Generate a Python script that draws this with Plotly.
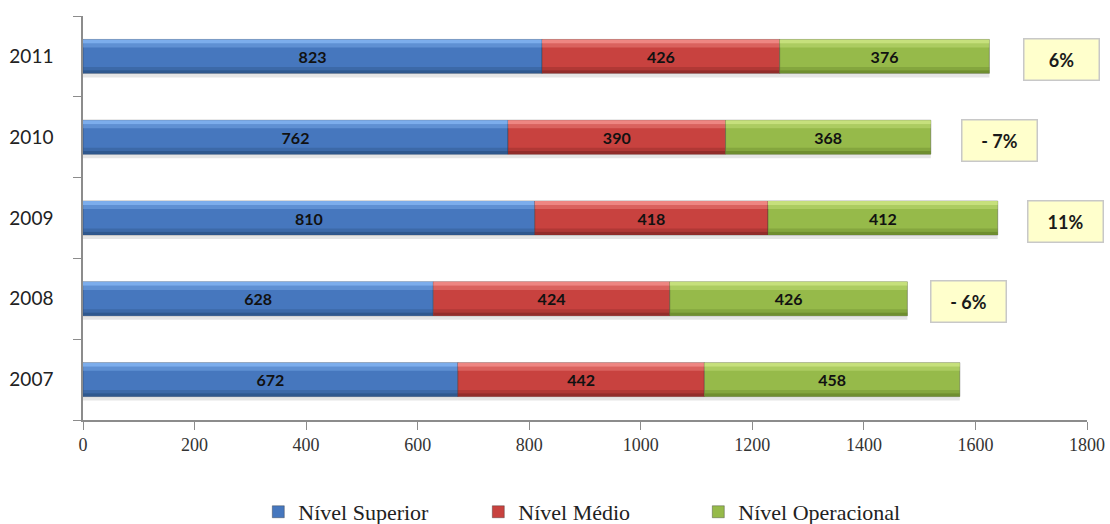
import plotly.graph_objects as go
import numpy as np

years = ["2007", "2008", "2009", "2010", "2011"]
superior = [672, 628, 810, 762, 823]
medio = [442, 424, 418, 390, 426]
operacional = [458, 426, 412, 368, 376]

# year-over-year change labels (2008..2011)
change_years = ["2008", "2009", "2010", "2011"]
change_labels = ["- 6%", "11%", "- 7%", "6%"]
change_x = [1587, 1762, 1644, 1754]

series = [
    ("Nível Superior", superior, "#4677BE", "#7FB0EE", "#2C5488"),
    ("Nível Médio", medio, "#C8423F", "#F08A86", "#8C2A28"),
    ("Nível Operacional", operacional, "#96BA4A", "#C8E27E", "#6A8A2C"),
]

W = 0.42
fig = go.Figure()
base = np.zeros(len(years))
for name, vals, mid, light, dark in series:
    vals = np.array(vals, dtype=float)
    # soft drop shadow
    fig.add_trace(go.Bar(
        y=years, x=vals, base=base, orientation="h", width=0.05, offset=-W / 2 - 0.05,
        marker=dict(color="rgba(0,0,0,0.10)", line=dict(width=0)),
        showlegend=False, hoverinfo="skip"))
    # main body
    fig.add_trace(go.Bar(
        y=years, x=vals, base=base, orientation="h", width=W, offset=-W / 2,
        name=name, marker=dict(color=mid, line=dict(color="rgba(40,40,40,0.35)", width=1)),
        text=[str(int(v)) for v in vals], textposition="inside",
        insidetextanchor="middle", textangle=0,
        textfont=dict(family="Lato, sans-serif", size=16, color="#111111", weight="bold"),
        hoverinfo="skip"))
    # top highlight bands
    for w, off, op in [(0.05, W / 2 - 0.05, 0.95), (0.05, W / 2 - 0.10, 0.45)]:
        fig.add_trace(go.Bar(
            y=years, x=vals, base=base, orientation="h", width=w, offset=off,
            marker=dict(color=light, opacity=op, line=dict(width=0)),
            showlegend=False, hoverinfo="skip"))
    # bottom shade bands
    for w, off, op in [(0.04, -W / 2, 0.9), (0.04, -W / 2 + 0.04, 0.4)]:
        fig.add_trace(go.Bar(
            y=years, x=vals, base=base, orientation="h", width=w, offset=off,
            marker=dict(color=dark, opacity=op, line=dict(width=0)),
            showlegend=False, hoverinfo="skip"))
    base = base + vals

for yr, lab, xx in zip(change_years, change_labels, change_x):
    fig.add_annotation(
        x=xx, y=years.index(yr), xref="x", yref="y", yshift=-3, text=f"<b>{lab}</b>",
        showarrow=False,
        font=dict(family="Lato, sans-serif", size=18, color="#1a1a1a"),
        bgcolor="#FFFFCC", bordercolor="#C8C8C8", borderwidth=1.5,
        width=72, height=38, align="center")

fig.update_layout(
    width=1110, height=524,
    barmode="overlay",
    plot_bgcolor="white", paper_bgcolor="white",
    margin=dict(l=83, r=23, t=16, b=104, autoexpand=False),
    showlegend=True,
    legend=dict(orientation="h", x=0.530, xanchor="center", xref="container",
                y=0.023, yanchor="middle", yref="container",
                font=dict(family="Liberation Serif, serif", size=22, color="#222222"),
                itemwidth=30, entrywidth=175, traceorder="normal"),
    xaxis=dict(range=[0, 1800], dtick=200, showgrid=False, zeroline=False,
               automargin=False,
               showline=True, linecolor="#8C8C8C", linewidth=1.5,
               ticks="outside", ticklen=8, tickcolor="#8C8C8C",
               tickfont=dict(family="Liberation Serif, serif", size=18, color="#333333")),
    yaxis=dict(type="category", categoryorder="array", categoryarray=years,
               range=[-0.5, len(years) - 0.5], automargin=False,
               showgrid=False, showline=True, linecolor="#8C8C8C", linewidth=1.5,
               ticks="outside", ticklen=8, tickcolor="#8C8C8C", tickson="boundaries",
               ticklabelstandoff=24,
               tickfont=dict(family="Lato, sans-serif", size=19, color="#222222")),
)

fig.write_html("out.html")
